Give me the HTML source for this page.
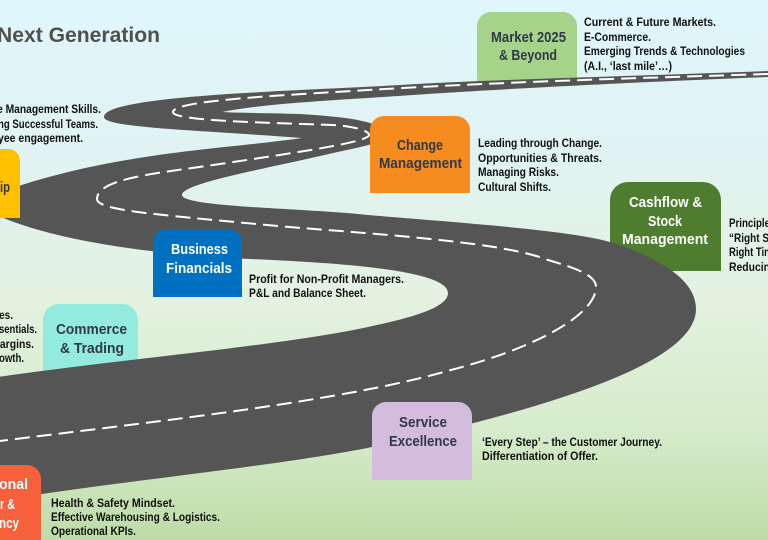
<!DOCTYPE html>
<html><head><meta charset="utf-8">
<style>
html,body{margin:0;padding:0;width:768px;height:540px;overflow:hidden;background:#fff}
svg{display:block}
text{font-family:"Liberation Sans",sans-serif;font-weight:bold;}
.d{font-size:11.5px;fill:#111}
.h{font-size:14.5px;fill:#2f3a46}
.w{font-size:14.5px;fill:#fff}
</style></head>
<body>
<svg width="768" height="540" viewBox="0 0 768 540" xmlns="http://www.w3.org/2000/svg">
<defs>
<linearGradient id="bg" x1="0" y1="0" x2="0" y2="1">
<stop offset="0" stop-color="#dff6fd"/>
<stop offset="0.3" stop-color="#e0f3f1"/>
<stop offset="0.55" stop-color="#e3f2e0"/>
<stop offset="0.8" stop-color="#d6ebcb"/>
<stop offset="1" stop-color="#bddca6"/>
</linearGradient>
</defs>
<rect width="768" height="540" fill="url(#bg)"/>

<text x="-3" y="42" fill="#505050" style="font-size:21.5px" textLength="163" lengthAdjust="spacingAndGlyphs">Next Generation</text>

<!-- boxes beneath road -->
<path d="M477 86V26a14 14 0 0 1 14-14h72a14 14 0 0 1 14 14V82z" fill="#a6d38a"/>
<path d="M610 271V200a18 18 0 0 1 18-18h75a18 18 0 0 1 18 18V271z" fill="#4f7d2f"/>
<path d="M43 385V320a16 16 0 0 1 16-16h63a16 16 0 0 1 16 16V385z" fill="#92ebdc"/>

<!-- road -->
<path fill="#555555" d="M768 71
C640 76 500 79 400 85
C300 91 104 95 104 117
C104 128 200 130 302 138
C220 150 100 152 -20 200
L-20 205
C-10 215 60 250 250 259
C340 263 448 270 448 293
C448 308 410 318 368 327
C280 346 130 358 -10 378
L-10 502
C110 482 280 466 372 447
C540 410 696 365 696 309
C696 280 660 258 610 242
C570 230 450 222 368 215
C300 208 182 207 182 195
C182 183 270 168 333 153
C360 147 385 143 385 135
C385 122 350 117 300 114
C270 113 240 113 222 112
C250 106 300 102 368 98
C440 93 560 85 768 77Z"/>

<!-- centre dashes -->
<path fill="none" stroke="#fff" stroke-width="2" stroke-dasharray="15 7" d="M768 74
C640 78 500 82 368 90
C290 95 173 100 173 112
C173 120 240 122 333 125
C350 126 369 130 369 135
C369 142 300 152 220 164
C160 173 97 178 97 199
C97 210 150 214 267 225
C340 232 500 240 548 260
C575 268 596 275 596 287
C596 315 535 348 451 370
C340 402 150 422 0 441"/>

<!-- boxes above road -->
<path d="M370 193V130a14 14 0 0 1 14-14h72a14 14 0 0 1 14 14V193z" fill="#f68b20"/>
<path d="M153 297V243a14 14 0 0 1 14-14h61a14 14 0 0 1 14 14V297z" fill="#0070c0"/>
<path d="M372 480V416a14 14 0 0 1 14-14h72a14 14 0 0 1 14 14V480z" fill="#d3bcde"/>
<path d="M-12 540V465H27a14 14 0 0 1 14 14V540z" fill="#f6603a"/>
<path d="M-12 218V149H8a12 12 0 0 1 12 12V218z" fill="#ffc000"/>

<!-- box labels -->
<text class="h" x="491" y="42" textLength="75" lengthAdjust="spacingAndGlyphs">Market 2025</text>
<text class="h" x="499" y="60" textLength="58" lengthAdjust="spacingAndGlyphs">&amp; Beyond</text>
<text class="h" x="397" y="150" textLength="46" lengthAdjust="spacingAndGlyphs">Change</text>
<text class="h" x="379" y="168" textLength="83" lengthAdjust="spacingAndGlyphs">Management</text>
<text class="w" x="629" y="207" textLength="73" lengthAdjust="spacingAndGlyphs">Cashflow &amp;</text>
<text class="w" x="648" y="226" textLength="34" lengthAdjust="spacingAndGlyphs">Stock</text>
<text class="w" x="622" y="244" textLength="86" lengthAdjust="spacingAndGlyphs">Management</text>
<text class="w" x="171" y="254" textLength="57" lengthAdjust="spacingAndGlyphs">Business</text>
<text class="w" x="166" y="273" textLength="66" lengthAdjust="spacingAndGlyphs">Financials</text>
<text class="h" x="56" y="334" textLength="71" lengthAdjust="spacingAndGlyphs">Commerce</text>
<text class="h" x="60" y="353" textLength="64" lengthAdjust="spacingAndGlyphs">&amp; Trading</text>
<text class="h" x="399" y="427" textLength="48" lengthAdjust="spacingAndGlyphs">Service</text>
<text class="h" x="389" y="446" textLength="68" lengthAdjust="spacingAndGlyphs">Excellence</text>
<text class="h" x="0" y="192" textLength="10" lengthAdjust="spacingAndGlyphs">ip</text>
<text class="w" x="-1" y="489" textLength="29" lengthAdjust="spacingAndGlyphs">onal</text>
<text class="w" x="0" y="509" textLength="15" lengthAdjust="spacingAndGlyphs">r &amp;</text>
<text class="w" x="-1" y="528" textLength="20" lengthAdjust="spacingAndGlyphs">ncy</text>

<!-- descriptions -->
<text class="d" x="584" y="26" textLength="132" lengthAdjust="spacingAndGlyphs">Current &amp; Future Markets.</text>
<text class="d" x="584" y="41" textLength="67" lengthAdjust="spacingAndGlyphs">E-Commerce.</text>
<text class="d" x="584" y="55" textLength="161" lengthAdjust="spacingAndGlyphs">Emerging Trends &amp; Technologies</text>
<text class="d" x="584" y="70" textLength="88" lengthAdjust="spacingAndGlyphs">(A.I., ‘last mile’…)</text>

<text class="d" x="478" y="147" textLength="124" lengthAdjust="spacingAndGlyphs">Leading through Change.</text>
<text class="d" x="478" y="162" textLength="124" lengthAdjust="spacingAndGlyphs">Opportunities &amp; Threats.</text>
<text class="d" x="478" y="176" textLength="81" lengthAdjust="spacingAndGlyphs">Managing Risks.</text>
<text class="d" x="478" y="191" textLength="73" lengthAdjust="spacingAndGlyphs">Cultural Shifts.</text>

<text class="d" x="729" y="227" textLength="41" lengthAdjust="spacingAndGlyphs">Principle</text>
<text class="d" x="729" y="242" textLength="40" lengthAdjust="spacingAndGlyphs">“Right S</text>
<text class="d" x="729" y="256" textLength="41" lengthAdjust="spacingAndGlyphs">Right Tin</text>
<text class="d" x="729" y="271" textLength="41" lengthAdjust="spacingAndGlyphs">Reducin</text>

<text class="d" x="249" y="283" textLength="155" lengthAdjust="spacingAndGlyphs">Profit for Non-Profit Managers.</text>
<text class="d" x="249" y="297" textLength="117" lengthAdjust="spacingAndGlyphs">P&amp;L and Balance Sheet.</text>

<text class="d" x="-3" y="113" textLength="104" lengthAdjust="spacingAndGlyphs">e Management Skills.</text>
<text class="d" x="-2" y="128" textLength="100" lengthAdjust="spacingAndGlyphs">ng Successful Teams.</text>
<text class="d" x="-2" y="142" textLength="85" lengthAdjust="spacingAndGlyphs">yee engagement.</text>

<text class="d" x="-1" y="319" textLength="14" lengthAdjust="spacingAndGlyphs">es.</text>
<text class="d" x="-1" y="333" textLength="38" lengthAdjust="spacingAndGlyphs">sentials.</text>
<text class="d" x="-3" y="348" textLength="37" lengthAdjust="spacingAndGlyphs">largins.</text>
<text class="d" x="-1" y="362" textLength="25" lengthAdjust="spacingAndGlyphs">owth.</text>

<text class="d" x="482" y="446" textLength="180" lengthAdjust="spacingAndGlyphs">‘Every Step’ – the Customer Journey.</text>
<text class="d" x="482" y="460" textLength="116" lengthAdjust="spacingAndGlyphs">Differentiation of Offer.</text>

<text class="d" x="51" y="507" textLength="124" lengthAdjust="spacingAndGlyphs">Health &amp; Safety Mindset.</text>
<text class="d" x="51" y="521" textLength="169" lengthAdjust="spacingAndGlyphs">Effective Warehousing &amp; Logistics.</text>
<text class="d" x="51" y="535" textLength="85" lengthAdjust="spacingAndGlyphs">Operational KPIs.</text>
</svg>
</body></html>
